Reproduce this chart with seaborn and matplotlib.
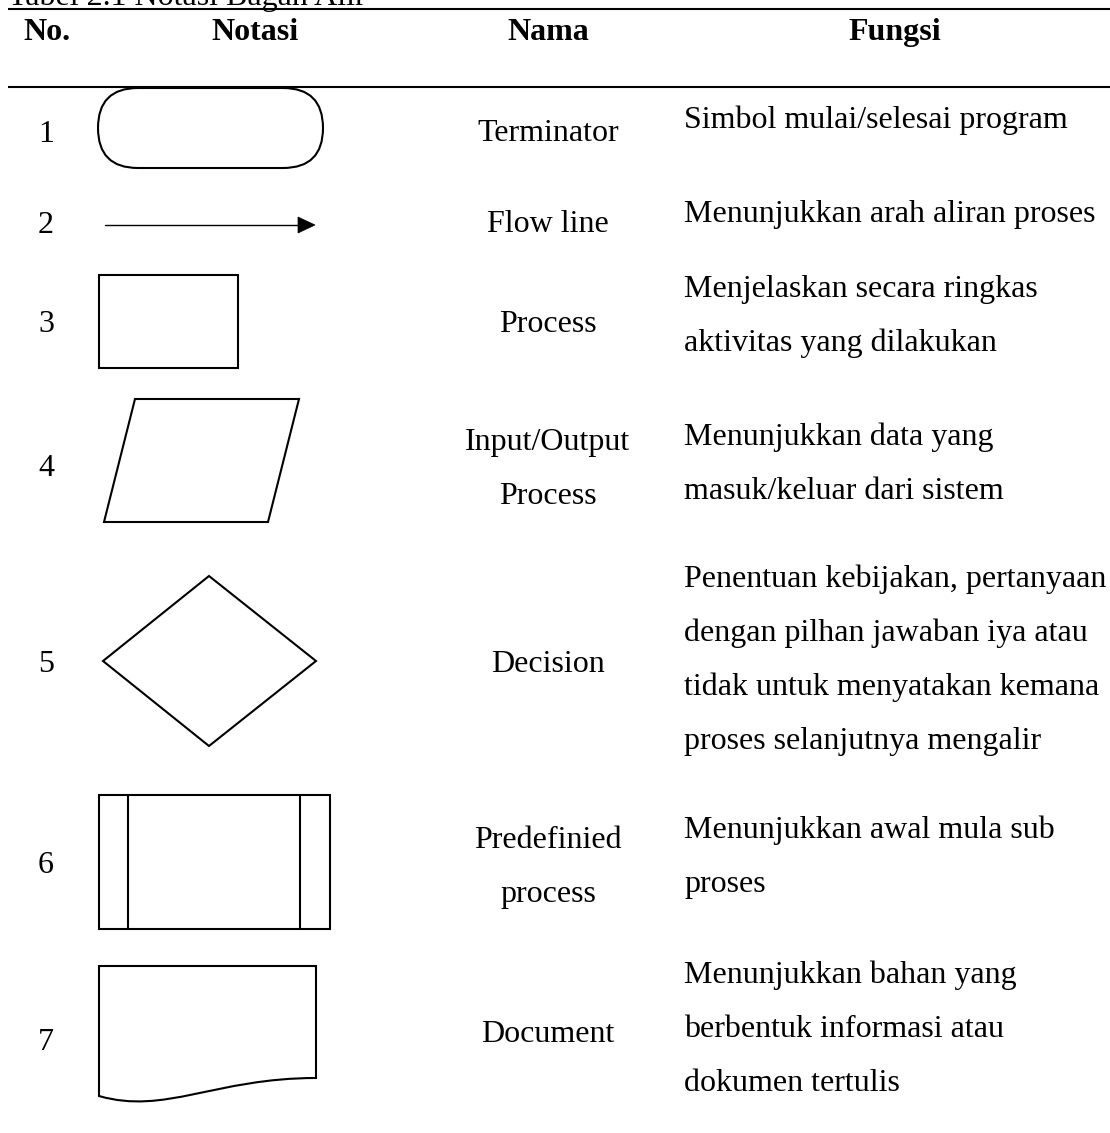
"""Tabel 2.1 - flowchart notation table, drawn with matplotlib patches."""

import matplotlib.pyplot as plt
import seaborn as sns
from matplotlib.patches import FancyBboxPatch, Polygon, Rectangle, PathPatch
from matplotlib.path import Path

TITLE = "Tabel 2.1 Notasi Bagan Alir"
HEADERS = ["No.", "Notasi", "Nama", "Fungsi"]
NUMBERS = ["1", "2", "3", "4", "5", "6", "7"]
NAMES = [
    ["Terminator"],
    ["Flow line"],
    ["Process"],
    ["Input/Output", "Process"],
    ["Decision"],
    ["Predefinied", "process"],
    ["Document"],
]
FUNCTIONS = [
    ["Simbol mulai/selesai program"],
    ["Menunjukkan arah aliran proses"],
    ["Menjelaskan secara ringkas", "aktivitas yang dilakukan"],
    ["Menunjukkan data yang", "masuk/keluar dari sistem"],
    ["Penentuan kebijakan, pertanyaan", "dengan pilhan jawaban iya atau",
     "tidak untuk menyatakan kemana", "proses selanjutnya mengalir"],
    ["Menunjukkan awal mula sub", "proses"],
    ["Menunjukkan bahan yang", "berbentuk informasi atau", "dokumen tertulis"],
]

# layout in pixels (y grows downwards)
W, H = 1110, 1133
HEADER_X = [47, 255, 548, 895]
NUM_X, NAME_X, FUNC_X = 46, 548, 684
NUM_BASE = [142, 233, 332, 476, 672, 873, 1050]
NAME_BASE = [141, 232, 332, 450, 672, 848, 1042]
FUNC_BASE = [128, 222, 297, 445, 587, 838, 983]
LINE_GAP = 54
FS = 23
LW = 1.5

sns.set_theme(style="white")
plt.rcParams["font.family"] = ["Liberation Serif", "DejaVu Serif"]
plt.rcParams["text.color"] = "black"

fig = plt.figure(figsize=(W / 100, H / 100), dpi=100)
ax = fig.add_axes([0, 0, 1, 1])
ax.set_xlim(0, W)
ax.set_ylim(H, 0)
ax.set_axis_off()

# title (cut off at the top of the page) and header rules
ax.text(8, 5, TITLE, fontsize=FS, va="baseline", ha="left")
ax.plot([8, W], [9, 9], color="black", lw=LW, solid_capstyle="butt")
ax.plot([8, W], [87, 87], color="black", lw=LW, solid_capstyle="butt")
for x, label in zip(HEADER_X, HEADERS):
    ax.text(x, 40, label, fontsize=FS, fontweight="bold", ha="center", va="baseline")

# text columns
for i in range(len(NUMBERS)):
    ax.text(NUM_X, NUM_BASE[i], NUMBERS[i], fontsize=FS, ha="center", va="baseline")
    for j, line in enumerate(NAMES[i]):
        ax.text(NAME_X, NAME_BASE[i] + j * LINE_GAP, line, fontsize=FS,
                ha="center", va="baseline")
    for j, line in enumerate(FUNCTIONS[i]):
        ax.text(FUNC_X, FUNC_BASE[i] + j * LINE_GAP, line, fontsize=FS,
                ha="left", va="baseline")

style = dict(fill=False, edgecolor="black", lw=LW, joinstyle="miter")

# 1 terminator
ax.add_patch(FancyBboxPatch((98, 88), 225, 80,
                            boxstyle="round,pad=0,rounding_size=40", **style))

# 2 flow line
ax.plot([105, 300], [225, 225], color="black", lw=1.0)
ax.add_patch(Polygon([(298, 217), (315, 225), (298, 233)], closed=True,
                     facecolor="black", edgecolor="black", lw=0.5))

# 3 process
ax.add_patch(Rectangle((99, 275), 139, 93, **style))

# 4 input/output
ax.add_patch(Polygon([(135, 399), (299, 399), (268, 522), (104, 522)],
                     closed=True, **style))

# 5 decision
ax.add_patch(Polygon([(103, 661), (209, 576), (316, 661), (209, 746)],
                     closed=True, **style))

# 6 predefined process
ax.add_patch(Rectangle((99, 795), 231, 134, **style))
ax.plot([128, 128], [795, 929], color="black", lw=LW)
ax.plot([300, 300], [795, 929], color="black", lw=LW)

# 7 document
doc = Path(
    [(99, 966), (316, 966), (316, 1078),
     (215, 1078), (165, 1115), (99, 1096), (99, 966)],
    [Path.MOVETO, Path.LINETO, Path.LINETO,
     Path.CURVE4, Path.CURVE4, Path.CURVE4, Path.CLOSEPOLY],
)
ax.add_patch(PathPatch(doc, **style))

fig.savefig("out.png", dpi=100, facecolor="white")
